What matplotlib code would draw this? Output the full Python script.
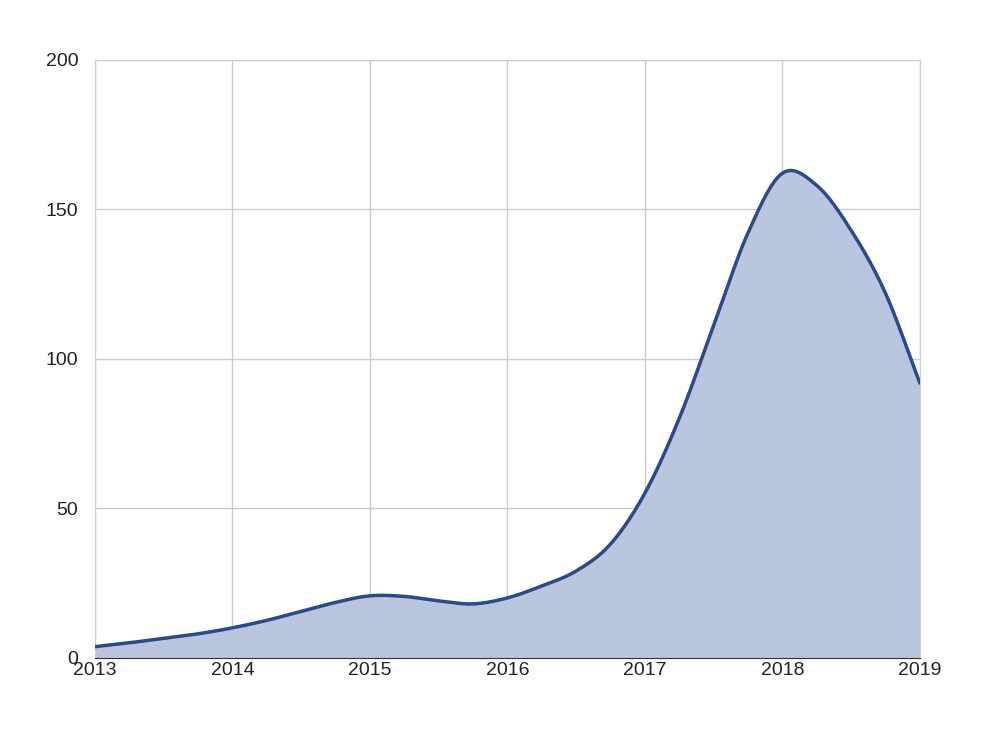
import numpy as np
import matplotlib
matplotlib.use("Agg")
import matplotlib.pyplot as plt

plt.rcParams['font.family'] = ['Liberation Sans', 'DejaVu Sans']

years = [2013, 2013.25, 2013.5, 2013.75, 2014, 2014.25, 2014.5, 2014.75, 2015, 2015.25,
         2015.5, 2015.75, 2016, 2016.25, 2016.5, 2016.75, 2017, 2017.25, 2017.5, 2017.75,
         2018, 2018.25, 2018.5, 2018.75, 2019]
values = [3.7, 5, 6.5, 8, 10, 12.5, 15.5, 18.5, 20.7, 20.5,
          19, 18, 20, 24, 29, 38, 55, 80, 111, 142,
          162, 158, 143, 122, 92]
xticks = [2013, 2014, 2015, 2016, 2017, 2018, 2019]
yticks = [0, 50, 100, 150, 200]

def catmull(x, y, n=20):
    x = np.asarray(x, float); y = np.asarray(y, float)
    px = np.concatenate([[2*x[0]-x[1]], x, [2*x[-1]-x[-2]]])
    py = np.concatenate([[2*y[0]-y[1]], y, [2*y[-1]-y[-2]]])
    xs, ys = [], []
    t = np.linspace(0, 1, n, endpoint=False)
    for i in range(1, len(px)-2):
        for arr, out in ((px, xs), (py, ys)):
            p0, p1, p2, p3 = arr[i-1:i+3]
            out.extend(0.5*((2*p1) + (-p0+p2)*t + (2*p0-5*p1+4*p2-p3)*t**2 + (-p0+3*p1-3*p2+p3)*t**3))
    xs.append(x[-1]); ys.append(y[-1])
    return np.array(xs), np.array(ys)

sx, sy = catmull(years, values)

fig = plt.figure(figsize=(9.9, 7.56), dpi=100)
ax = fig.add_axes([0.096, 0.130, 0.833, 0.791])
ax.fill_between(sx, 0, sy, color="#b9c6dd", zorder=2)
ax.plot(sx, sy, color="#2a4a8d", lw=2.5, zorder=3)
ax.set_xlim(2013, 2019)
ax.set_ylim(0, 200)
ax.set_xticks(xticks)
ax.set_yticks(yticks)
ax.grid(True, color="#cccccc", lw=1, zorder=1)
for s in ax.spines.values():
    s.set_color("#cccccc")
ax.spines["bottom"].set_color("#333333")
ax.tick_params(length=0, labelsize=14, colors="#222222")
ax.tick_params(axis='x', pad=3)
ax.tick_params(axis='y', pad=12)
fig.savefig("out.png", dpi=100)
